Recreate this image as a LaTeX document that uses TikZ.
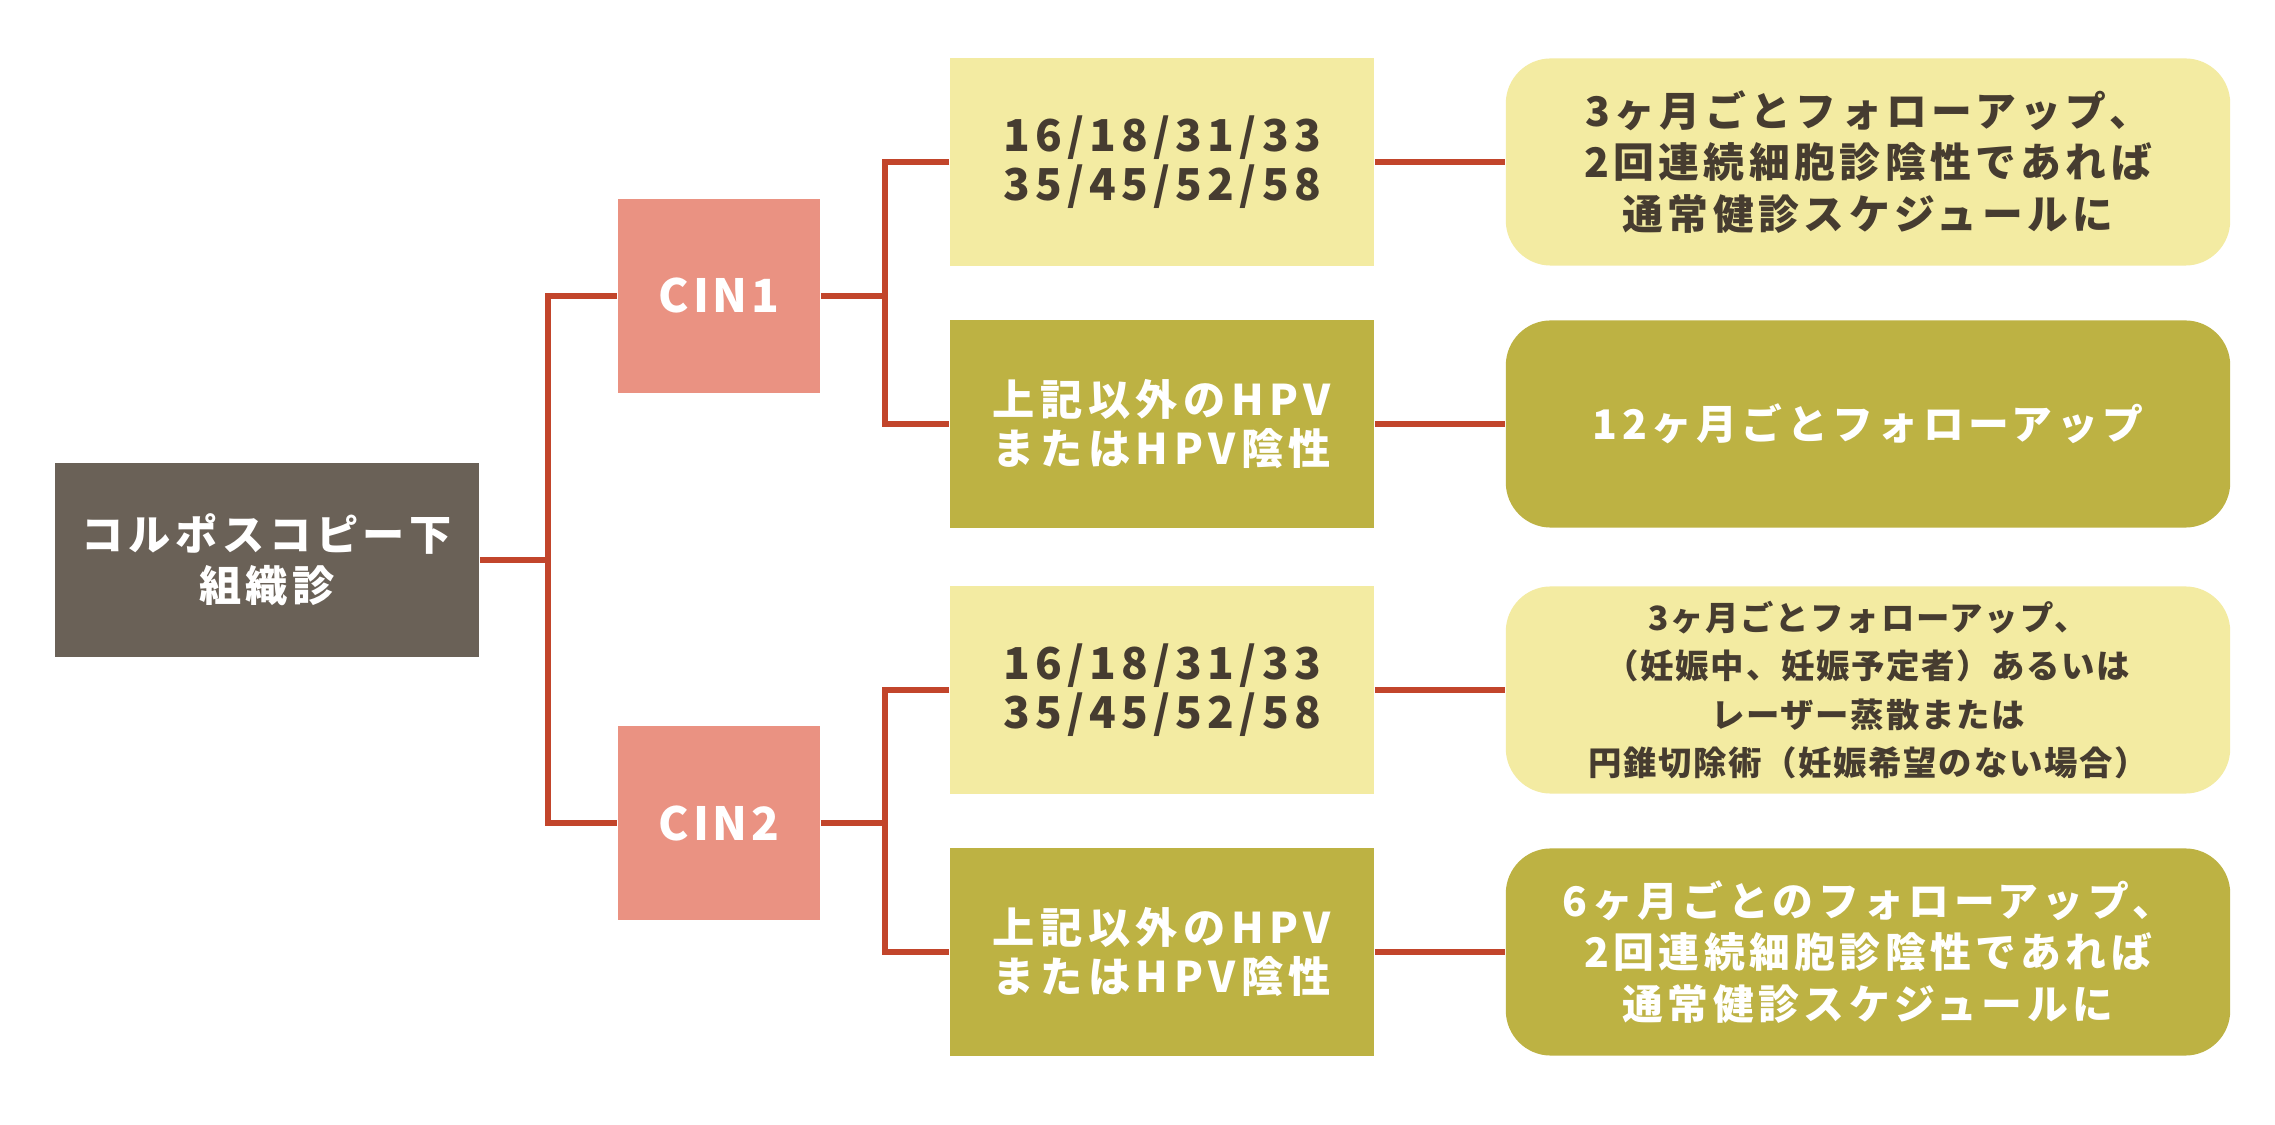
\documentclass[tikz,border=0pt]{standalone}
\usepackage{fontspec}
\newfontfamily\jp{Noto Sans CJK JP}
\newcommand\jpfont[3]{\jp\bfseries\fontsize{#1}{#2}\selectfont\addfontfeatures{LetterSpace=#3}}

\definecolor{rootgray}{HTML}{6A6157}
\definecolor{cinpink}{HTML}{EA9282}
\definecolor{paleyellow}{HTML}{F3EBA2}
\definecolor{olivebox}{HTML}{BDB243}
\definecolor{linered}{HTML}{C2452B}
\definecolor{textbrown}{HTML}{463C30}

\tikzset{
  box/.style={inner sep=0pt, align=center},
  rootbox/.style={box, fill=rootgray, text=white, minimum width=4.24cm, minimum height=1.94cm,
    font=\jpfont{12}{14.4}{11}},
  cinbox/.style={box, fill=cinpink, text=white, minimum width=2.02cm, minimum height=1.94cm,
    font=\jpfont{13}{15}{8}},
  hrbox/.style={box, fill=paleyellow, text=textbrown, minimum width=4.24cm, minimum height=2.07cm,
    font=\jpfont{12.5}{14}{12}},
  othbox/.style={box, fill=olivebox, text=white, minimum width=4.24cm, minimum height=2.07cm,
    font=\jpfont{12}{13.8}{13}},
  resbox/.style={box, rounded corners=0.45cm, minimum width=7.24cm, minimum height=2.07cm,
    font=\jpfont{11.6}{14.6}{11}},
  link/.style={draw=linered, line width=1.8pt}
}

\begin{document}
\begin{tikzpicture}[x=0.01cm, y=-0.01cm]

% Frame
\fill[white] (0,0) rectangle (2275,1125);
\useasboundingbox (0,0) rectangle (2275,1125);

% Root
\node[rootbox] (root) at (267,560) {コルポスコピー下\\組織診};

% CIN grades
\node[cinbox] (cin1) at (719,296) {CIN1};
\node[cinbox] (cin2) at (719,823) {CIN2};

% HPV types
\node[hrbox] (hr1) at (1162,162) {16/18/31/33\\35/45/52/58};
\node[othbox] (oth1) at (1162,424) {上記以外のHPV\\またはHPV陰性};
\node[hrbox] (hr2) at (1162,690) {16/18/31/33\\35/45/52/58};
\node[othbox] (oth2) at (1162,952) {上記以外のHPV\\またはHPV陰性};

% Follow-up
\node[resbox, fill=paleyellow, text=textbrown] (res1) at (1868,162)
  {3ヶ月ごとフォローアップ、\\2回連続細胞診陰性であれば\\通常健診スケジュールに};
\node[resbox, fill=olivebox, text=white] (res2) at (1868,424)
  {12ヶ月ごとフォローアップ};
\node[resbox, fill=paleyellow, text=textbrown, font=\jpfont{9.5}{13.8}{5}] (res3) at (1868,690)
  {3ヶ月ごとフォローアップ、\\（妊娠中、妊娠予定者）あるいは\\レーザー蒸散または\\円錐切除術（妊娠希望のない場合）};
\node[resbox, fill=olivebox, text=white] (res4) at (1868,952)
  {6ヶ月ごとのフォローアップ、\\2回連続細胞診陰性であれば\\通常健診スケジュールに};

% Junctions
\coordinate (j0) at (548,560);
\coordinate (j1) at (885,296);
\coordinate (j2) at (885,823);

% Connectors
\draw[link] (root) -- (j0);
\draw[link] (cin1.west) -| (j0) |- (cin2.west);
\draw[link] (cin1) -- (j1);
\draw[link] (hr1.west) -| (j1) |- (oth1.west);
\draw[link] (cin2) -- (j2);
\draw[link] (hr2.west) -| (j2) |- (oth2.west);
\draw[link] (hr1) -- (res1);
\draw[link] (oth1) -- (res2);
\draw[link] (hr2) -- (res3);
\draw[link] (oth2) -- (res4);

\end{tikzpicture}
\end{document}
